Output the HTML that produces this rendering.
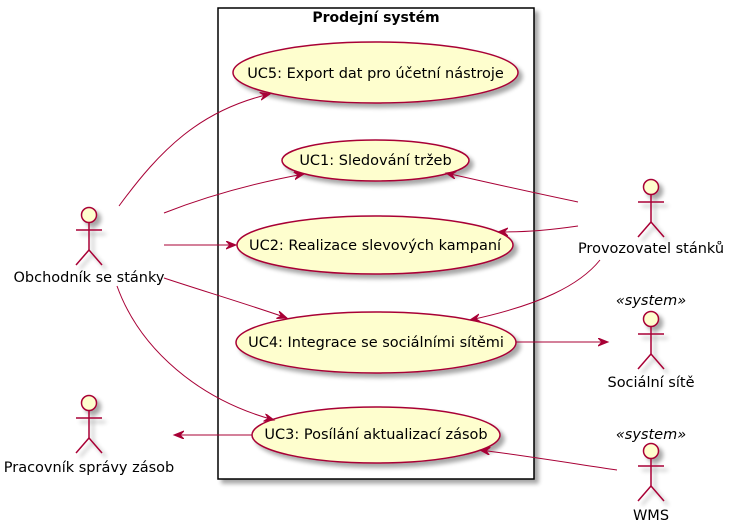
<!DOCTYPE html>
<html><head><meta charset="utf-8"><style>
html,body{margin:0;padding:0;background:#fff;width:730px;height:527px;overflow:hidden}
svg{display:block}
text{font-family:"DejaVu Sans","Liberation Sans",sans-serif;font-size:14.5px;fill:#000}
</style></head><body>
<svg width="730" height="527" viewBox="0 0 730 527" xmlns="http://www.w3.org/2000/svg">
<defs>
<filter id="sh" x="-20%" y="-20%" width="150%" height="150%">
<feGaussianBlur in="SourceAlpha" stdDeviation="2"/>
<feOffset dx="4" dy="4" result="b"/>
<feComponentTransfer><feFuncA type="linear" slope="0.35"/></feComponentTransfer>
<feMerge><feMergeNode/><feMergeNode in="SourceGraphic"/></feMerge>
</filter>
<marker id="ar" markerWidth="12" markerHeight="10" refX="10" refY="4" orient="auto" markerUnits="userSpaceOnUse">
<path d="M0,0 L10,4 L0,8 L4,4 Z" fill="#A80036" stroke="#A80036" stroke-width="1"/>
</marker>
<g id="actor">
<circle cx="0" cy="0" r="7.5" fill="#FEFECE" stroke="#A80036" stroke-width="1.5"/>
<line x1="0" y1="7.5" x2="0" y2="35" stroke="#A80036" stroke-width="1.5"/>
<line x1="-13" y1="15" x2="13" y2="15" stroke="#A80036" stroke-width="1.5"/>
<line x1="0" y1="35" x2="-13" y2="50" stroke="#A80036" stroke-width="1.5"/>
<line x1="0" y1="35" x2="13" y2="50" stroke="#A80036" stroke-width="1.5"/>
</g>
</defs>

<rect x="218" y="8" width="316" height="471" fill="#fff" stroke="#000" stroke-width="1.5" filter="url(#sh)"/>
<text x="376" y="22" text-anchor="middle" font-weight="bold" style="font-size:14px">Prodejní systém</text>

<g fill="#FEFECE" stroke="#A80036" stroke-width="1.5" filter="url(#sh)">
<ellipse cx="375.5" cy="72.5" rx="142.5" ry="30.5"/>
<ellipse cx="375.5" cy="160.5" rx="93.5" ry="20.5"/>
<ellipse cx="375" cy="245" rx="138" ry="29"/>
<ellipse cx="376" cy="342.5" rx="140" ry="30.5"/>
<ellipse cx="376" cy="435" rx="124" ry="28"/>
</g>
<text x="375.5" y="78" text-anchor="middle">UC5: Export dat pro účetní nástroje</text>
<text x="375.5" y="165" text-anchor="middle">UC1: Sledování tržeb</text>
<text x="375" y="250" text-anchor="middle">UC2: Realizace slevových kampaní</text>
<text x="376" y="347" text-anchor="middle">UC4: Integrace se sociálními sítěmi</text>
<text x="376" y="439" text-anchor="middle">UC3: Posílání aktualizací zásob</text>

<g fill="none" stroke="#A80036" stroke-width="1" marker-end="url(#ar)">
<path d="M119,206 C160,150 200,110 270,94"/>
<path d="M164,213 C210,195 260,182 304,174"/>
<path d="M164,245 L236,245"/>
<path d="M164,278 C200,290 250,305 287,318"/>
<path d="M117,286 C140,350 200,400 274,420"/>
<path d="M578,202 C530,192 490,183 446,173"/>
<path d="M578,226 C550,230 530,232 498,232"/>
<path d="M600,260 C580,285 540,305 470,320"/>
<path d="M516,342 L608,342"/>
<path d="M252,435 L174,435"/>
<path d="M617,470 C570,463 520,455 480,450"/>
</g>

<g filter="url(#sh)">
<use href="#actor" x="89" y="215"/>
<use href="#actor" x="651" y="187"/>
<use href="#actor" x="651" y="319"/>
<use href="#actor" x="89" y="403"/>
<use href="#actor" x="651" y="451"/>
</g>
<text x="89" y="282" text-anchor="middle">Obchodník se stánky</text>
<text x="651" y="253" text-anchor="middle">Provozovatel stánků</text>
<text x="651" y="305" text-anchor="middle" font-style="italic">«system»</text>
<text x="651" y="387" text-anchor="middle">Sociální sítě</text>
<text x="89" y="472" text-anchor="middle">Pracovník správy zásob</text>
<text x="651" y="439" text-anchor="middle" font-style="italic">«system»</text>
<text x="651" y="520" text-anchor="middle">WMS</text>
</svg>
</body></html>
